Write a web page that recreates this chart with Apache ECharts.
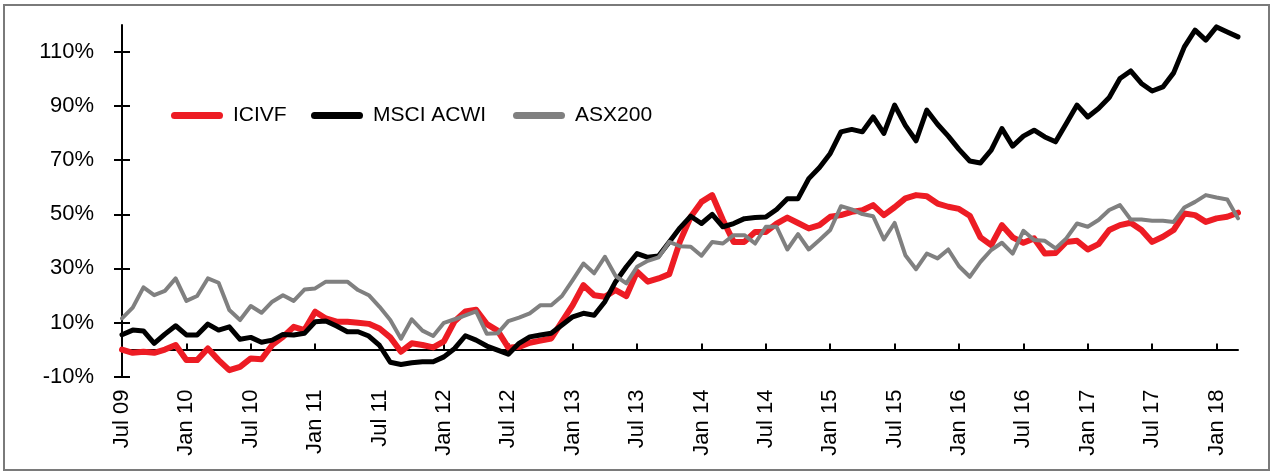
<!DOCTYPE html>
<html>
<head>
<meta charset="utf-8">
<script src="https://cdn.jsdelivr.net/npm/echarts@6/dist/echarts.min.js"></script>
<style>
html,body{margin:0;padding:0;background:#fff;}
#chart{width:1271px;height:472px;}
</style>
</head>
<body>
<div id="chart"></div>
<script>
// Month labels Jul 09 .. Mar 18
const monthNames = ['Jan','Feb','Mar','Apr','May','Jun','Jul','Aug','Sep','Oct','Nov','Dec'];
const categories = [];
for (let i = 0; i < 105; i++) {
  const m = (6 + i) % 12;
  const y = 9 + Math.floor((6 + i) / 12);
  categories.push(monthNames[m] + ' ' + (y < 10 ? '0' + y : '' + y));
}

const seriesNames = ['ICIVF', 'MSCI ACWI', 'ASX200'];

const icivf = [
  0, -1.2, -0.8, -1.2, 0, 1.7, -3.9, -3.9, 0.4, -3.9,
  -7.6, -6.4, -3.3, -3.6, 1.7, 4.7, 8.4, 7.2, 14.0, 11.5,
  10.3, 10.3, 9.9, 9.5, 7.8, 4.5, -0.8, 2.3, 1.7, 0.8,
  3.0, 10.5, 14.1, 14.7, 9.4, 7.0, 0.7, 1.0, 2.5, 3.3,
  4.1, 10.3, 16.4, 23.8, 20.1, 19.5, 22.0, 19.8, 28.8, 25.1,
  26.3, 27.9, 40.0, 49.1, 54.6, 57.1, 47.9, 39.8, 39.8, 43.5,
  43.5, 46.6, 48.8, 46.8, 44.8, 46.0, 49.1, 49.7, 50.9, 51.5,
  53.4, 49.7, 52.6, 55.9, 57.1, 56.7, 54.0, 52.8, 52.0, 49.5,
  41.5, 38.6, 46.0, 41.5, 39.5, 41.1, 35.5, 35.7, 39.8, 40.2,
  37.0, 39.0, 44.2, 46.0, 46.9, 44.2, 39.8, 41.7, 44.2, 50.3,
  49.7, 47.2, 48.5, 49.1, 50.6
];

const msciAcwi = [
  5.5, 7.2, 6.9, 2.3, 5.7, 8.8, 5.4, 5.4, 9.4, 7.2,
  8.4, 3.8, 4.5, 2.7, 3.5, 5.6, 5.4, 6.0, 10.3, 10.6,
  8.7, 6.6, 6.6, 5.0, 1.5, -4.7, -5.5, -4.9, -4.5, -4.5,
  -2.7, 0.4, 5.1, 3.5, 1.3, -0.2, -1.7, 2.3, 4.7, 5.4,
  6.0, 9.1, 12.1, 13.4, 12.7, 17.7, 25.1, 30.6, 35.5, 34.1,
  34.6, 39.8, 45.0, 49.3, 46.6, 50.0, 45.4, 46.6, 48.4, 48.8,
  49.0, 51.8, 55.8, 55.8, 63.2, 67.3, 72.5, 80.5, 81.4, 80.5,
  86.0, 79.9, 90.4, 82.9, 77.2, 88.5, 83.3, 78.9, 74.0, 69.7,
  69.0, 73.7, 81.7, 75.2, 78.9, 81.1, 78.6, 76.8, 83.6, 90.4,
  86.0, 89.1, 93.2, 100.2, 103.0, 98.4, 95.6, 97.1, 102.3, 111.9,
  118.1, 114.4, 119.3, 117.4, 115.6
];

const asx200 = [
  11.5, 15.5, 23.0, 20.1, 21.7, 26.3, 18.0, 19.8, 26.3, 24.7,
  14.6, 10.9, 16.1, 13.6, 17.7, 20.1, 18.0, 22.2, 22.6, 25.1,
  25.1, 25.1, 22.0, 20.1, 15.8, 10.9, 4.0, 11.2, 7.0, 5.0,
  9.9, 11.2, 12.6, 14.1, 5.8, 6.0, 10.5, 11.8, 13.4, 16.4,
  16.4, 19.8, 25.7, 31.8, 28.2, 34.3, 27.2, 24.5, 30.6, 32.8,
  34.1, 39.8, 38.2, 38.0, 34.7, 39.8, 39.2, 42.3, 42.3, 39.2,
  45.4, 45.4, 37.0, 42.7, 37.0, 40.5, 44.2, 53.0, 51.8, 50.1,
  49.3, 40.7, 46.8, 34.9, 29.7, 35.5, 33.7, 37.0, 30.8, 26.9,
  32.4, 36.8, 39.5, 35.5, 43.9, 40.5, 40.2, 37.4, 41.1, 46.6,
  45.4, 47.9, 51.6, 53.4, 48.1, 48.1, 47.6, 47.6, 47.2, 52.5,
  54.6, 57.1, 56.2, 55.5, 48.5
];

const yTicks = [-10, 10, 30, 50, 70, 90, 110];

const FONT = '"Liberation Sans", Arial, sans-serif';
const colors = ['#ED1C24', '#000000', '#808080'];
const widths = [6, 5, 4];
const capsule = 'path://M3.5,0H48.5A3.5,3.5,0,0,1,48.5,7H3.5A3.5,3.5,0,0,1,3.5,0Z';
const legendLefts = [171, 311, 513];

const chart = echarts.init(document.getElementById('chart'), null, {renderer: 'canvas'});

const legends = seriesNames.map((n, k) => ({
  data: [n],
  left: legendLefts[k],
  top: 105,
  padding: 0,
  itemWidth: 52,
  itemHeight: 7,
  icon: capsule,
  selectedMode: false,
  textStyle: {fontFamily: FONT, fontSize: 21, color: '#000', padding: [0, 0, 0, 5]}
}));

const dataSets = [icivf, msciAcwi, asx200];

chart.setOption({
  animation: false,
  backgroundColor: '#fff',
  textStyle: {fontFamily: FONT},
  graphic: [{
    type: 'rect',
    shape: {x: 4, y: 5, width: 1265, height: 465},
    style: {fill: 'none', stroke: '#7a7a7a', lineWidth: 2},
    silent: true,
    z: -1
  }],
  legend: legends,
  grid: {left: 122, top: 25, width: 1116, height: 351.6, containLabel: false},
  xAxis: [{
    type: 'category',
    data: categories,
    boundaryGap: false,
    position: 'bottom',
    axisLine: {onZero: true, lineStyle: {color: '#000', width: 2}},
    axisTick: {show: true, inside: true, length: 6, interval: 5, lineStyle: {color: '#000', width: 2}},
    axisLabel: {show: false},
    splitLine: {show: false}
  }, {
    type: 'category',
    data: categories,
    boundaryGap: false,
    position: 'bottom',
    axisLine: {show: false, onZero: false},
    axisTick: {show: false},
    axisLabel: {show: true, interval: 5, rotate: 90, margin: 13, fontSize: 22, fontFamily: FONT, color: '#000'},
    splitLine: {show: false}
  }],
  yAxis: [{
    type: 'value',
    min: -10,
    max: 120,
    position: 'left',
    axisLine: {show: true, lineStyle: {color: '#000', width: 2}},
    axisTick: {show: true, length: 8, customValues: yTicks, lineStyle: {color: '#000', width: 2}},
    axisLabel: {show: true, customValues: yTicks, margin: 28, fontSize: 22, fontFamily: FONT, color: '#000',
      formatter: v => v + '%'},
    splitLine: {show: false}
  }, {
    type: 'value',
    min: -10,
    max: 120,
    position: 'left',
    offset: 0,
    axisLine: {show: false},
    axisTick: {show: true, inside: true, length: 8, customValues: yTicks, lineStyle: {color: '#000', width: 2}},
    axisLabel: {show: false},
    splitLine: {show: false}
  }],
  series: seriesNames.map((n, k) => ({
    name: n,
    type: 'line',
    xAxisIndex: 0,
    yAxisIndex: 0,
    data: dataSets[k],
    symbol: 'none',
    color: colors[k],
    lineStyle: {color: colors[k], width: widths[k], cap: 'round', join: 'round'},
    itemStyle: {color: colors[k]},
    z: 2 + k
  }))
});
</script>
</body>
</html>
